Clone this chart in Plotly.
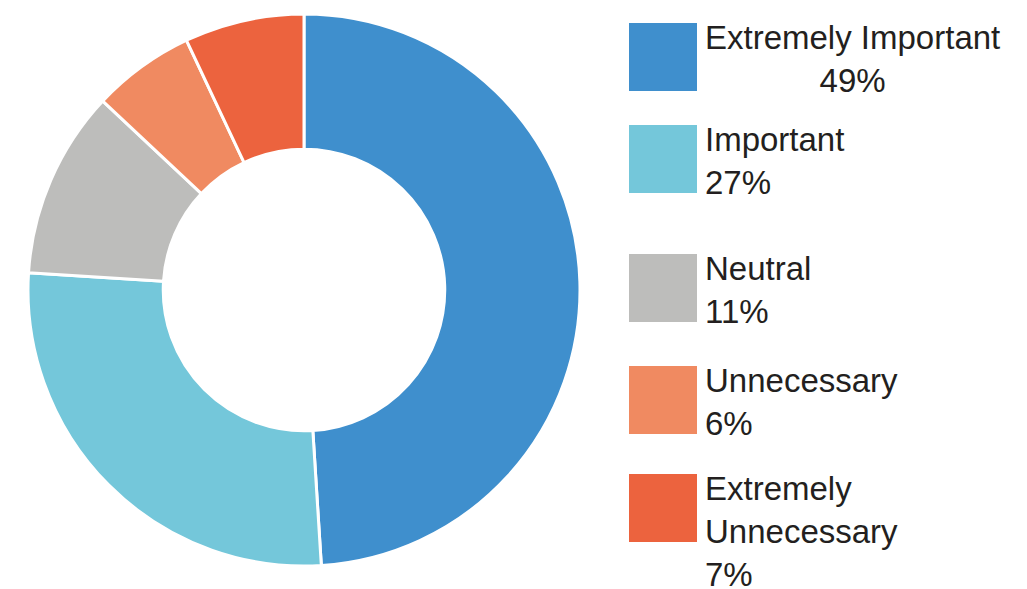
import plotly.graph_objects as go

labels = ["Extremely Important", "Important", "Neutral", "Unnecessary", "Extremely Unnecessary"]
values = [49, 27, 11, 6, 7]
colors = ["#3F8FCD", "#74C7DA", "#BDBDBB", "#F08A61", "#EC633E"]
legend_text = ["Extremely Important<br>49%", "Important<br>27%", "Neutral<br>11%",
               "Unnecessary<br>6%", "Extremely<br>Unnecessary<br>7%"]
legend_align = ["center", "left", "left", "left", "left"]

W, H = 1027, 589

fig = go.Figure(go.Pie(
    labels=labels,
    values=values,
    hole=0.51,
    sort=False,
    direction="clockwise",
    rotation=0,
    marker=dict(colors=colors, line=dict(color="white", width=3)),
    textinfo="none",
    showlegend=False,
    domain=dict(x=[28 / W, 580 / W], y=[1 - 566 / H, 1 - 14 / H]),
))

# legend drawn by hand: big squares + text on the right
box_tops = [23, 125, 254, 366, 474]
for i, top in enumerate(box_tops):
    fig.add_shape(type="rect", xref="paper", yref="paper",
                  x0=629 / W, x1=697 / W, y0=1 - top / H, y1=1 - (top + 68) / H,
                  fillcolor=colors[i], line=dict(width=0))
    fig.add_annotation(xref="paper", yref="paper",
                       x=703 / W, y=1 - (top - 6) / H,
                       xanchor="left", yanchor="top",
                       text=legend_text[i], align=legend_align[i],
                       showarrow=False,
                       font=dict(family="Liberation Sans, Arial", size=33, color="#231F20"))

fig.update_layout(
    width=W, height=H,
    margin=dict(l=0, r=0, t=0, b=0),
    paper_bgcolor="white",
    plot_bgcolor="white",
)

# drop the default page margin so the figure sits at the window corner
fig.write_html("out.html", config={"displayModeBar": False},
               post_script="document.body.style.margin='0';")
